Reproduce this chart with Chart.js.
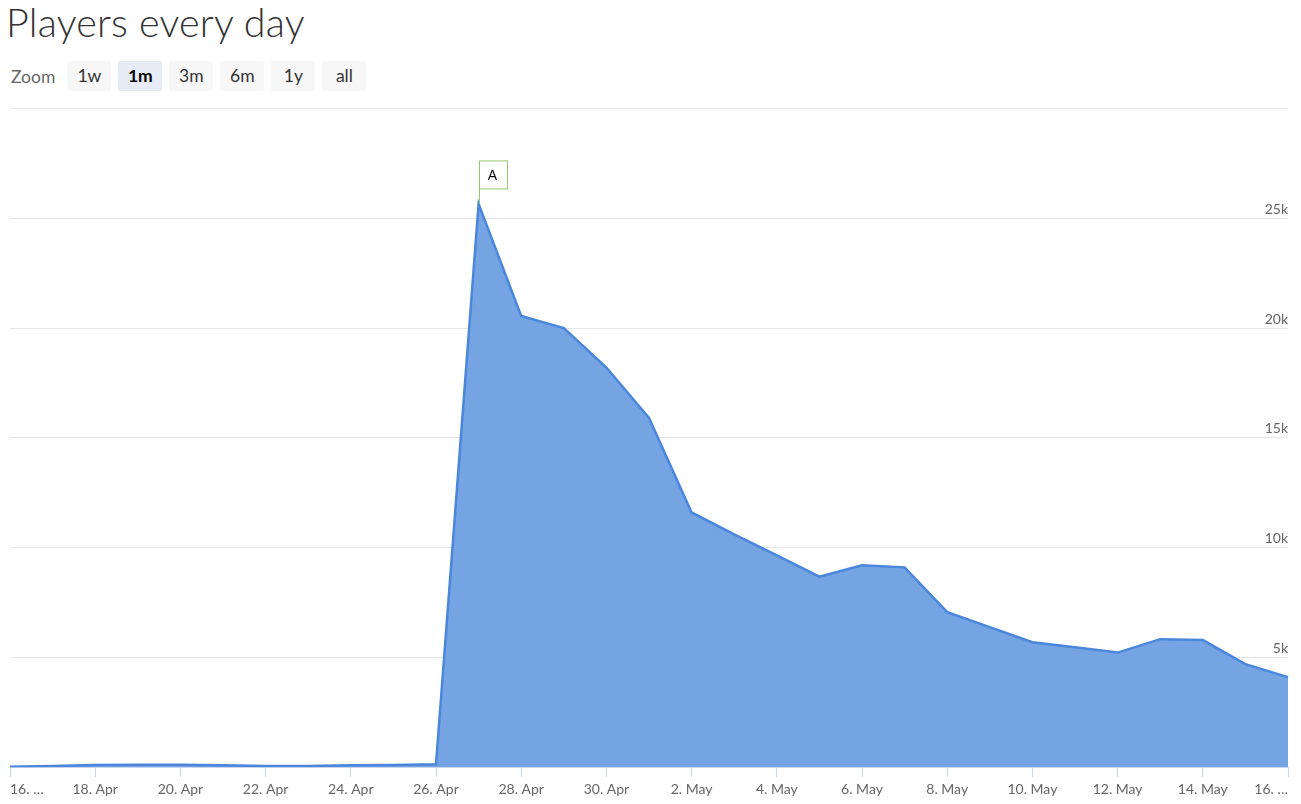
<!DOCTYPE html>
<html>
<head>
<meta charset="utf-8">
<script src="https://cdn.jsdelivr.net/npm/chart.js@4"></script>
<style>
  body { margin: 0; background: #fff; font-family: Lato, sans-serif; }
  #title { position: absolute; left: 6px; top: -2px; font-size: 39.5px; font-weight: 300; color: #333; letter-spacing: 0.2px; }
  #zoom { position: absolute; left: 11px; top: 61px; height: 30px; display: flex; align-items: center; font-size: 17.5px; }
  #zoom .lbl { color: #666; margin-right: 12px; }
  #zoom .btn { width: 44px; height: 30px; line-height: 30px; text-align: center; background: #f7f7f7; color: #333; margin-right: 7px; border-radius: 2px; }
  #zoom .btn.on { background: #e6ebf5; color: #000; font-weight: bold; }
  #wrap { position: absolute; left: 0; top: 100px; width: 1301px; height: 704px; }
</style>
</head>
<body>
<div id="title">Players every day</div>
<div id="zoom">
  <span class="lbl">Zoom</span>
  <span class="btn">1w</span><span class="btn on">1m</span><span class="btn">3m</span><span class="btn">6m</span><span class="btn">1y</span><span class="btn">all</span>
</div>
<div id="wrap"><canvas id="playersChart"></canvas></div>
<script>
const days = [
    "16. Apr", "17. Apr", "18. Apr", "19. Apr", "20. Apr", "21. Apr", "22. Apr", "23. Apr",
    "24. Apr", "25. Apr", "26. Apr", "27. Apr", "28. Apr", "29. Apr", "30. Apr", "1. May",
    "2. May", "3. May", "4. May", "5. May", "6. May", "7. May", "8. May", "9. May",
    "10. May", "11. May", "12. May", "13. May", "14. May", "15. May", "16. May",
];
const players = [
    20, 60, 100, 110, 110, 90, 60, 60,
    90, 100, 130, 25650, 20550, 20000, 18200, 15900,
    11600, 10600, 9650, 8680, 9200, 9100, 7060, 6380,
    5690, 5460, 5220, 5830, 5790, 4690, 4100,
];
const yTicks = [0, 5000, 10000, 15000, 20000, 25000, 30000];
const flagDays = ["27. Apr"];
const flagTexts = ["A"];

// flags like the "A" marker above the peak
const flagPlugin = {
    id: "flags",
    afterDatasetsDraw(chart) {
        const ctx = chart.ctx;
        const meta = chart.getDatasetMeta(0);
        flagDays.forEach((d, i) => {
            const pt = meta.data[days.indexOf(d)];
            const x = Math.round(pt.x) + 0.5;
            const bottom = pt.y - 15;
            ctx.save();
            ctx.strokeStyle = "#94c66c";
            ctx.lineWidth = 1;
            ctx.beginPath();
            ctx.moveTo(x, pt.y);
            ctx.lineTo(x, bottom);
            ctx.stroke();
            ctx.fillStyle = "#fff";
            ctx.fillRect(x, bottom - 28, 28, 28);
            ctx.strokeRect(x, bottom - 28, 28, 28);
            ctx.fillStyle = "#000";
            ctx.font = "14px 'Liberation Sans', Arial, sans-serif";
            ctx.textAlign = "center";
            ctx.textBaseline = "middle";
            ctx.fillText(flagTexts[i], x + 13, bottom - 13);
            ctx.restore();
        });
    },
};

new Chart(document.getElementById("playersChart"), {
    type: "line",
    data: {
        labels: days,
        datasets: [
            {
                data: players,
                borderColor: "#4a86dc",
                backgroundColor: "#74a5e2",
                borderWidth: 2.5,
                fill: "origin",
                pointRadius: 0,
                tension: 0,
            },
        ],
    },
    options: {
        responsive: true,
        maintainAspectRatio: false,
        animation: false,
        layout: { padding: { left: 10, right: 13, top: 8, bottom: 2 } },
        plugins: { legend: { display: false }, tooltip: { enabled: false } },
        scales: {
            x: {
                type: "category",
                offset: false,
                border: { color: "#ccd6eb", width: 1 },
                grid: {
                    drawOnChartArea: false,
                    drawTicks: true,
                    tickLength: 10,
                    color: (c) => (c.index % 2 ? "rgba(0,0,0,0)" : "#ccd6eb"),
                },
                ticks: {
                    autoSkip: false,
                    maxRotation: 0,
                    align: "inner",
                    padding: 4,
                    color: "#666",
                    font: { family: "Lato", size: 14 },
                    callback: (v, i) => {
                        if (i % 2) return "";
                        if (i === 0 || i === days.length - 1) return days[i].split(" ")[0] + " …";
                        return days[i];
                    },
                },
            },
            y: {
                position: "right",
                min: yTicks[0],
                max: yTicks[yTicks.length - 1],
                afterBuildTicks: (s) => { s.ticks = yTicks.map((v) => ({ value: v })); },
                border: { display: false },
                grid: { color: "#e6e6e6", drawTicks: false },
                ticks: {
                    mirror: true,
                    padding: 0,
                    labelOffset: -9,
                    color: "#666",
                    font: { family: "Lato", size: 14 },
                    callback: (v) => (v === 0 ? "0" : v === 30000 ? "" : v / 1000 + "k"),
                },
            },
        },
    },
    plugins: [flagPlugin],
});
</script>
</body>
</html>
